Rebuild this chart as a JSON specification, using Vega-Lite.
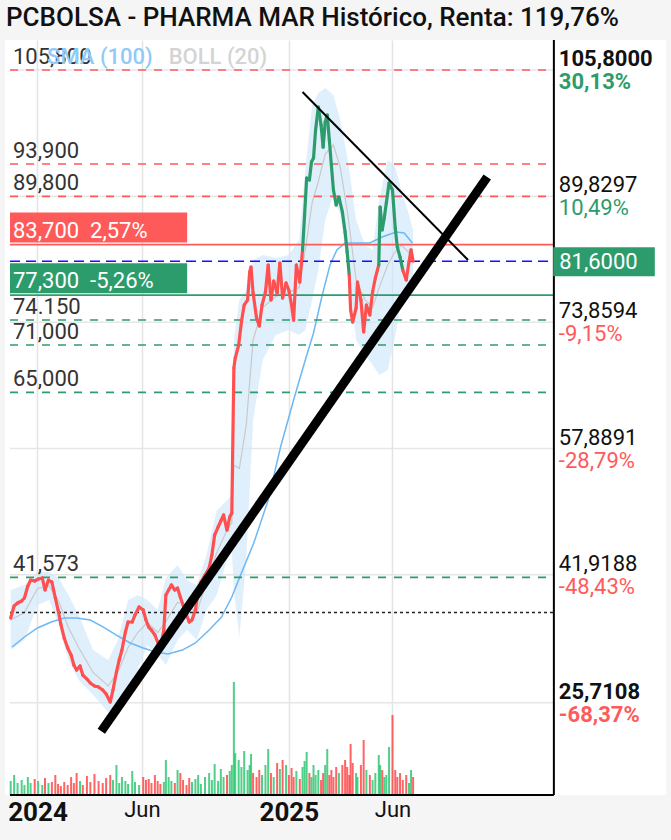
{
"$schema": "https://vega.github.io/schema/vega-lite/v6.json",
"width": 661, "height": 755,
"autosize": {"type": "none"},
"padding": {"left": 5, "top": 40, "right": 5, "bottom": 45},
"background": "#f5f5f5",
"title": {"text": "PCBOLSA - PHARMA MAR Histórico, Renta: 119,76%", "anchor": "start", "frame": "group", "fontSize": 26, "fontWeight": 500, "color": "#111111", "offset": 8, "dx": 1},
"config": {"font": "Roboto", "view": {"fill": "white", "stroke": null}},
"datasets": {
"precios": [
{"fecha":"2023-11-23","cierre":36.43,"vol":280},{"fecha":"2023-11-28","cierre":37.95,"vol":400},{"fecha":"2023-12-03","cierre":38.33,"vol":240},{"fecha":"2023-12-09","cierre":38.59,"vol":300},{"fecha":"2023-12-13","cierre":38.97,"vol":200},{"fecha":"2023-12-18","cierre":40.48,"vol":360},{"fecha":"2023-12-22","cierre":41.24,"vol":240},{"fecha":"2023-12-28","cierre":41.12,"vol":320},{"fecha":"2024-01-02","cierre":41.37,"vol":280},{"fecha":"2024-01-08","cierre":41.50,"vol":200},{"fecha":"2024-01-12","cierre":39.98,"vol":340},{"fecha":"2024-01-17","cierre":41.24,"vol":240},{"fecha":"2024-01-22","cierre":40.99,"vol":260},{"fecha":"2024-01-27","cierre":38.97,"vol":400},{"fecha":"2024-01-31","cierre":37.45,"vol":220},{"fecha":"2024-02-04","cierre":35.67,"vol":180},{"fecha":"2024-02-09","cierre":33.90,"vol":260},{"fecha":"2024-02-14","cierre":32.64,"vol":200},{"fecha":"2024-02-19","cierre":31.75,"vol":360},{"fecha":"2024-02-23","cierre":30.48,"vol":240},{"fecha":"2024-02-27","cierre":29.85,"vol":440},{"fecha":"2024-03-03","cierre":30.36,"vol":280},{"fecha":"2024-03-07","cierre":29.22,"vol":200},{"fecha":"2024-03-13","cierre":28.71,"vol":380},{"fecha":"2024-03-18","cierre":28.21,"vol":260},{"fecha":"2024-03-24","cierre":27.83,"vol":420},{"fecha":"2024-03-30","cierre":27.70,"vol":280},{"fecha":"2024-04-05","cierre":27.32,"vol":240},{"fecha":"2024-04-10","cierre":26.81,"vol":340},{"fecha":"2024-04-16","cierre":25.80,"vol":400},{"fecha":"2024-04-20","cierre":27.32,"vol":300},{"fecha":"2024-04-25","cierre":29.60,"vol":600},{"fecha":"2024-04-29","cierre":31.12,"vol":240},{"fecha":"2024-05-03","cierre":32.38,"vol":360},{"fecha":"2024-05-08","cierre":34.66,"vol":280},{"fecha":"2024-05-12","cierre":35.93,"vol":220},{"fecha":"2024-05-18","cierre":35.93,"vol":480},{"fecha":"2024-05-22","cierre":36.81,"vol":260},{"fecha":"2024-05-28","cierre":37.83,"vol":200},{"fecha":"2024-06-03","cierre":37.45,"vol":360},{"fecha":"2024-06-07","cierre":36.18,"vol":300},{"fecha":"2024-06-11","cierre":35.29,"vol":320},{"fecha":"2024-06-15","cierre":34.91,"vol":240},{"fecha":"2024-06-20","cierre":34.28,"vol":400},{"fecha":"2024-06-24","cierre":33.40,"vol":280},{"fecha":"2024-06-28","cierre":32.64,"vol":220},{"fecha":"2024-07-03","cierre":34.91,"vol":260},{"fecha":"2024-07-06","cierre":39.35,"vol":700},{"fecha":"2024-07-10","cierre":39.98,"vol":360},{"fecha":"2024-07-14","cierre":40.61,"vol":280},{"fecha":"2024-07-19","cierre":39.98,"vol":240},{"fecha":"2024-07-23","cierre":40.23,"vol":500},{"fecha":"2024-07-27","cierre":39.09,"vol":440},{"fecha":"2024-07-31","cierre":38.08,"vol":300},{"fecha":"2024-08-05","cierre":36.81,"vol":200},{"fecha":"2024-08-09","cierre":35.93,"vol":340},{"fecha":"2024-08-13","cierre":36.18,"vol":260},{"fecha":"2024-08-18","cierre":37.45,"vol":320},{"fecha":"2024-08-22","cierre":39.73,"vol":400},{"fecha":"2024-08-26","cierre":40.99,"vol":220},{"fecha":"2024-09-01","cierre":41.88,"vol":360},{"fecha":"2024-09-07","cierre":42.76,"vol":440},{"fecha":"2024-09-11","cierre":44.41,"vol":300},{"fecha":"2024-09-15","cierre":46.94,"vol":620},{"fecha":"2024-09-20","cierre":47.95,"vol":280},{"fecha":"2024-09-24","cierre":48.71,"vol":520},{"fecha":"2024-09-28","cierre":49.47,"vol":360},{"fecha":"2024-10-03","cierre":47.57,"vol":400},{"fecha":"2024-10-07","cierre":49.22,"vol":480},{"fecha":"2024-10-10","cierre":49.73,"vol":600},{"fecha":"2024-10-13","cierre":68.08,"vol":2260},{"fecha":"2024-10-15","cierre":69.34,"vol":840},{"fecha":"2024-10-20","cierre":70.99,"vol":700},{"fecha":"2024-10-24","cierre":73.90,"vol":560},{"fecha":"2024-10-28","cierre":76.05,"vol":880},{"fecha":"2024-11-02","cierre":76.69,"vol":500},{"fecha":"2024-11-05","cierre":80.23,"vol":600},{"fecha":"2024-11-07","cierre":80.86,"vol":820},{"fecha":"2024-11-10","cierre":77.57,"vol":440},{"fecha":"2024-11-15","cierre":74.41,"vol":360},{"fecha":"2024-11-19","cierre":73.40,"vol":500},{"fecha":"2024-11-23","cierre":76.05,"vol":400},{"fecha":"2024-11-28","cierre":77.70,"vol":600},{"fecha":"2024-12-02","cierre":81.12,"vol":920},{"fecha":"2024-12-06","cierre":76.69,"vol":440},{"fecha":"2024-12-10","cierre":79.09,"vol":360},{"fecha":"2024-12-15","cierre":77.57,"vol":640},{"fecha":"2024-12-19","cierre":81.37,"vol":520},{"fecha":"2024-12-23","cierre":76.94,"vol":700},{"fecha":"2024-12-28","cierre":78.84,"vol":600},{"fecha":"2025-01-01","cierre":77.95,"vol":400},{"fecha":"2025-01-05","cierre":76.05,"vol":540},{"fecha":"2025-01-08","cierre":74.15,"vol":360},{"fecha":"2025-01-12","cierre":81.12,"vol":480},{"fecha":"2025-01-17","cierre":78.96,"vol":320},{"fecha":"2025-01-21","cierre":83.02,"vol":560},{"fecha":"2025-01-24","cierre":87.45,"vol":680},{"fecha":"2025-01-27","cierre":92.13,"vol":860},{"fecha":"2025-01-31","cierre":91.88,"vol":440},{"fecha":"2025-02-03","cierre":94.15,"vol":360},{"fecha":"2025-02-06","cierre":94.66,"vol":600},{"fecha":"2025-02-09","cierre":98.21,"vol":400},{"fecha":"2025-02-13","cierre":101.12,"vol":500},{"fecha":"2025-02-17","cierre":98.84,"vol":300},{"fecha":"2025-02-20","cierre":96.05,"vol":440},{"fecha":"2025-02-23","cierre":99.22,"vol":600},{"fecha":"2025-02-26","cierre":100.10,"vol":920},{"fecha":"2025-03-01","cierre":96.94,"vol":400},{"fecha":"2025-03-04","cierre":93.77,"vol":500},{"fecha":"2025-03-07","cierre":90.61,"vol":360},{"fecha":"2025-03-11","cierre":88.71,"vol":560},{"fecha":"2025-03-15","cierre":89.72,"vol":440},{"fecha":"2025-03-20","cierre":87.83,"vol":600},{"fecha":"2025-03-24","cierre":85.29,"vol":700},{"fecha":"2025-03-27","cierre":82.76,"vol":560},{"fecha":"2025-03-30","cierre":79.85,"vol":400},{"fecha":"2025-04-01","cierre":75.42,"vol":1020},{"fecha":"2025-04-04","cierre":73.90,"vol":640},{"fecha":"2025-04-09","cierre":75.67,"vol":440},{"fecha":"2025-04-11","cierre":78.96,"vol":360},{"fecha":"2025-04-16","cierre":76.69,"vol":600},{"fecha":"2025-04-20","cierre":72.64,"vol":1100},{"fecha":"2025-04-24","cierre":76.05,"vol":500},{"fecha":"2025-04-29","cierre":74.79,"vol":400},{"fecha":"2025-05-03","cierre":77.70,"vol":300},{"fecha":"2025-05-07","cierre":79.47,"vol":440},{"fecha":"2025-05-12","cierre":81.12,"vol":800},{"fecha":"2025-05-14","cierre":88.46,"vol":600},{"fecha":"2025-05-17","cierre":85.55,"vol":500},{"fecha":"2025-05-20","cierre":87.07,"vol":360},{"fecha":"2025-05-23","cierre":88.96,"vol":400},{"fecha":"2025-05-27","cierre":91.50,"vol":960},{"fecha":"2025-06-01","cierre":90.61,"vol":1600},{"fecha":"2025-06-05","cierre":85.80,"vol":500},{"fecha":"2025-06-08","cierre":83.39,"vol":360},{"fecha":"2025-06-12","cierre":82.13,"vol":440},{"fecha":"2025-06-16","cierre":80.48,"vol":300},{"fecha":"2025-06-21","cierre":79.22,"vol":400},{"fecha":"2025-06-25","cierre":81.50,"vol":240},{"fecha":"2025-06-28","cierre":83.02,"vol":500},{"fecha":"2025-07-01","cierre":81.60,"vol":360}
],
"bandas": [
{"fecha":"2023-11-23","sup":39.98,"inf":32.38,"media":36.18},{"fecha":"2023-12-13","sup":40.61,"inf":33.65,"media":37.13},{"fecha":"2024-01-01","sup":42.26,"inf":38.08,"media":40.17},{"fecha":"2024-01-18","sup":42.26,"inf":38.71,"media":40.49},{"fecha":"2024-02-01","sup":41.50,"inf":35.55,"media":38.53},{"fecha":"2024-02-15","sup":39.35,"inf":31.12,"media":35.24},{"fecha":"2024-03-01","sup":36.81,"inf":28.59,"media":32.70},{"fecha":"2024-03-22","sup":32.38,"inf":26.69,"media":29.54},{"fecha":"2024-04-13","sup":31.12,"inf":24.54,"media":27.83},{"fecha":"2024-04-27","sup":33.65,"inf":25.42,"media":29.54},{"fecha":"2024-05-12","sup":38.71,"inf":26.69,"media":32.70},{"fecha":"2024-05-26","sup":39.35,"inf":29.85,"media":34.60},{"fecha":"2024-06-09","sup":38.71,"inf":33.02,"media":35.87},{"fecha":"2024-06-24","sup":37.45,"inf":31.75,"media":34.60},{"fecha":"2024-07-06","sup":41.50,"inf":30.48,"media":35.99},{"fecha":"2024-07-23","sup":43.14,"inf":33.65,"media":38.40},{"fecha":"2024-08-06","sup":41.24,"inf":34.91,"media":38.08},{"fecha":"2024-08-20","sup":40.61,"inf":33.65,"media":37.13},{"fecha":"2024-09-03","sup":44.41,"inf":37.45,"media":40.93},{"fecha":"2024-09-18","sup":50.00,"inf":39.35,"media":44.68},{"fecha":"2024-10-03","sup":51.37,"inf":43.77,"media":47.57},{"fecha":"2024-10-10","sup":52.00,"inf":45.00,"media":48.50},{"fecha":"2024-10-13","sup":71.62,"inf":39.98,"media":55.80},{"fecha":"2024-10-21","sup":76.69,"inf":34.03,"media":55.36},{"fecha":"2024-10-31","sup":77.95,"inf":43.77,"media":60.86},{"fecha":"2024-11-10","sup":81.75,"inf":61.50,"media":71.63},{"fecha":"2024-11-24","sup":82.38,"inf":69.09,"media":75.74},{"fecha":"2024-12-13","sup":82.00,"inf":72.26,"media":77.13},{"fecha":"2025-01-01","sup":82.38,"inf":72.89,"media":77.64},{"fecha":"2025-01-16","sup":84.28,"inf":72.26,"media":78.27},{"fecha":"2025-01-25","sup":93.14,"inf":72.89,"media":83.02},{"fecha":"2025-02-04","sup":101.37,"inf":76.69,"media":89.03},{"fecha":"2025-02-13","sup":102.89,"inf":80.49,"media":91.69},{"fecha":"2025-02-23","sup":103.52,"inf":86.81,"media":95.17},{"fecha":"2025-03-07","sup":102.64,"inf":89.98,"media":96.31},{"fecha":"2025-03-17","sup":99.47,"inf":87.45,"media":93.46},{"fecha":"2025-03-28","sup":94.41,"inf":80.49,"media":87.45},{"fecha":"2025-04-09","sup":86.81,"inf":71.62,"media":79.22},{"fecha":"2025-04-22","sup":83.65,"inf":69.72,"media":76.69},{"fecha":"2025-05-03","sup":83.02,"inf":68.46,"media":75.74},{"fecha":"2025-05-13","sup":89.50,"inf":67.19,"media":78.35},{"fecha":"2025-05-25","sup":94.41,"inf":67.83,"media":81.12},{"fecha":"2025-06-04","sup":93.77,"inf":71.62,"media":82.70},{"fecha":"2025-06-14","sup":90.61,"inf":76.69,"media":83.65},{"fecha":"2025-06-25","sup":87.45,"inf":77.95,"media":82.70},{"fecha":"2025-07-01","sup":85.55,"inf":77.95,"media":81.75}
],
"sma": [
{"fecha":"2023-11-25","sma":32.76},{"fecha":"2023-12-13","sma":34.03},{"fecha":"2024-01-01","sma":35.17},{"fecha":"2024-01-21","sma":35.93},{"fecha":"2024-02-09","sma":36.43},{"fecha":"2024-02-27","sma":36.43},{"fecha":"2024-03-18","sma":36.18},{"fecha":"2024-04-06","sma":35.29},{"fecha":"2024-04-25","sma":34.28},{"fecha":"2024-05-15","sma":33.27},{"fecha":"2024-06-03","sma":32.64},{"fecha":"2024-06-21","sma":32.13},{"fecha":"2024-07-09","sma":31.88},{"fecha":"2024-07-30","sma":32.38},{"fecha":"2024-08-18","sma":33.27},{"fecha":"2024-09-07","sma":34.91},{"fecha":"2024-09-25","sma":36.56},{"fecha":"2024-10-10","sma":39.09},{"fecha":"2024-10-24","sma":42.13},{"fecha":"2024-11-11","sma":45.93},{"fecha":"2024-12-02","sma":51.37},{"fecha":"2024-12-20","sma":58.08},{"fecha":"2025-01-08","sma":64.03},{"fecha":"2025-01-25","sma":69.09},{"fecha":"2025-02-06","sma":72.51},{"fecha":"2025-02-18","sma":77.07},{"fecha":"2025-03-02","sma":81.12},{"fecha":"2025-03-12","sma":83.02},{"fecha":"2025-03-24","sma":83.90},{"fecha":"2025-04-29","sma":83.90},{"fecha":"2025-05-17","sma":84.66},{"fecha":"2025-06-06","sma":85.29},{"fecha":"2025-06-18","sma":85.17},{"fecha":"2025-06-30","sma":83.90}
],
"niveles": [
{"valor":105.8,"etiqueta":"105,800","tipo":"resistencia"},
{"valor":93.9,"etiqueta":"93,900","tipo":"resistencia"},
{"valor":89.8,"etiqueta":"89,800","tipo":"resistencia"},
{"valor":83.7,"etiqueta":"83,700\u00a0\u00a02,57%","tipo":"resistencia_activa"},
{"valor":81.6,"etiqueta":"81,6000","tipo":"precio"},
{"valor":77.3,"etiqueta":"77,300\u00a0\u00a0-5,26%","tipo":"soporte_activo"},
{"valor":74.15,"etiqueta":"74.150","tipo":"soporte"},
{"valor":71.0,"etiqueta":"71,000","tipo":"soporte"},
{"valor":65.0,"etiqueta":"65,000","tipo":"soporte"},
{"valor":41.573,"etiqueta":"41,573","tipo":"soporte"},
{"valor":37.13,"etiqueta":"","tipo":"inicio"}
],
"rejilla": [
{"valor":105.8,"etiqueta":"105,8000","pct":"30,13%"},
{"valor":89.8297,"etiqueta":"89,8297","pct":"10,49%"},
{"valor":73.8594,"etiqueta":"73,8594","pct":"-9,15%"},
{"valor":57.8891,"etiqueta":"57,8891","pct":"-28,79%"},
{"valor":41.9188,"etiqueta":"41,9188","pct":"-48,43%"},
{"valor":25.7108,"etiqueta":"25,7108","pct":"-68,37%"}
],
"tendencias": [
{"linea":"alcista","fecha":"2024-04-03","precio":22.1},
{"linea":"alcista","fecha":"2025-10-17","precio":92.26},
{"linea":"bajista","fecha":"2025-01-21","precio":103.02},
{"linea":"bajista","fecha":"2025-09-19","precio":81.75}
],
"leyenda": [
{"serie":"SMA (100)"},
{"serie":"BOLL (20)"}
]
},
"layer": [
{
"data": {"name": "rejilla"},
"mark": {"type": "rule", "color": "#e6e6e6", "strokeWidth": 1.5},
"encoding": {
"x": {"datum": {"year":2023,"month":11,"date":22,"utc":true}, "type": "temporal", "scale": {"type":"utc","domain":[{"year":2023,"month":11,"date":22,"utc":true},{"year":2026,"month":6,"date":27,"utc":true}],"nice":false}, "title": null},
"x2": {"datum": {"year":2026,"month":1,"date":22,"utc":true}},
"y": {"field": "valor", "type": "quantitative", "scale": {"domain":[14.03,109.6],"nice":false,"zero":false}, "axis": null}
}
},
{
"data": {"name": "bandas"},
"mark": {"type": "area", "color": "#cfe7fb", "opacity": 0.65},
"encoding": {
"x": {"field": "fecha", "type": "temporal", "scale": {"type":"utc","domain":[{"year":2023,"month":11,"date":22,"utc":true},{"year":2026,"month":6,"date":27,"utc":true}],"nice":false}, "title": null,
"axis": {"values": [{"year":2024,"month":1,"date":1,"utc":true},{"year":2024,"month":6,"date":1,"utc":true},{"year":2025,"month":1,"date":1,"utc":true},{"year":2025,"month":6,"date":1,"utc":true}],
"labelExpr": "utcmonth(datum.value) == 0 ? utcFormat(datum.value, '%Y') : 'Jun'",
"labelFontSize": {"condition": {"test": "utcmonth(datum.value) == 0", "value": 26}, "value": 22},
"labelFontWeight": {"condition": {"test": "utcmonth(datum.value) == 0", "value": "bold"}, "value": "normal"},
"labelColor": "#111111", "labelPadding": 4, "labelOverlap": false, "labelFlush": false, "labelBound": false,
"ticks": false, "domain": false, "grid": true, "gridColor": "#e4e4e4", "gridWidth": 1.5, "title": null}},
"y": {"field": "sup", "type": "quantitative", "scale": {"domain":[14.03,109.6],"nice":false,"zero":false}, "axis": null},
"y2": {"field": "inf"}
}
},
{
"data": {"name": "bandas"},
"mark": {"type": "line", "color": "#c9c9c9", "strokeWidth": 1.2},
"encoding": {
"x": {"field": "fecha", "type": "temporal", "scale": {"type":"utc","domain":[{"year":2023,"month":11,"date":22,"utc":true},{"year":2026,"month":6,"date":27,"utc":true}],"nice":false}, "title": null},
"y": {"field": "media", "type": "quantitative", "scale": {"domain":[14.03,109.6],"nice":false,"zero":false}, "axis": null}
}
},
{
"data": {"name": "sma"},
"mark": {"type": "line", "color": "#6cb8f5", "strokeWidth": 1.5},
"encoding": {
"x": {"field": "fecha", "type": "temporal", "scale": {"type":"utc","domain":[{"year":2023,"month":11,"date":22,"utc":true},{"year":2026,"month":6,"date":27,"utc":true}],"nice":false}, "title": null},
"y": {"field": "sma", "type": "quantitative", "scale": {"domain":[14.03,109.6],"nice":false,"zero":false}, "axis": null}
}
},
{
"data": {"name": "niveles"},
"mark": {"type": "rule", "strokeWidth": 1.6},
"encoding": {
"x": {"datum": {"year":2023,"month":11,"date":22,"utc":true}, "type": "temporal", "scale": {"type":"utc","domain":[{"year":2023,"month":11,"date":22,"utc":true},{"year":2026,"month":6,"date":27,"utc":true}],"nice":false}, "title": null},
"x2": {"datum": {"year":2026,"month":1,"date":22,"utc":true}},
"y": {"field": "valor", "type": "quantitative", "scale": {"domain":[14.03,109.6],"nice":false,"zero":false}, "axis": null},
"color": {"field": "tipo", "type": "nominal", "legend": null, "scale": {"domain": ["resistencia","resistencia_activa","precio","soporte_activo","soporte","inicio"], "range": ["#ff5a5a","#ff5a5a","#1010ff","#2d9c6c","#2d9c6c","#222222"]}},
"strokeDash": {"field": "tipo", "type": "nominal", "legend": null, "scale": {"domain": ["resistencia","resistencia_activa","precio","soporte_activo","soporte","inicio"], "range": [[8,8],[1,0],[10,6],[1,0],[8,8],[3,3]]}}
}
},
{
"data": {"name": "precios"},
"transform": [{"window": [{"op": "lag", "field": "cierre", "as": "cant"}], "sort": [{"field": "fecha"}]}],
"mark": {"type": "bar", "width": 2, "opacity": 0.8},
"encoding": {
"x": {"field": "fecha", "type": "temporal", "scale": {"type":"utc","domain":[{"year":2023,"month":11,"date":22,"utc":true},{"year":2026,"month":6,"date":27,"utc":true}],"nice":false}, "title": null},
"y": {"field": "vol", "type": "quantitative", "scale": {"domain":[0,15100],"nice":false,"zero":true}, "axis": null},
"color": {"condition": {"test": "datum.cant == null || datum.cierre >= datum.cant", "value": "#22c46a"}, "value": "#ff3d3d"}
}
},
{
"data": {"name": "precios"},
"transform": [
{"window": [{"op": "lead", "field": "fecha", "as": "fsig"}, {"op": "lead", "field": "cierre", "as": "csig"}], "sort": [{"field": "fecha"}]},
{"filter": "datum.csig != null"}
],
"mark": {"type": "rule", "strokeWidth": 3.2, "strokeCap": "round"},
"encoding": {
"x": {"field": "fecha", "type": "temporal", "scale": {"type":"utc","domain":[{"year":2023,"month":11,"date":22,"utc":true},{"year":2026,"month":6,"date":27,"utc":true}],"nice":false}, "title": null},
"x2": {"field": "fsig"},
"y": {"field": "cierre", "type": "quantitative", "scale": {"domain":[14.03,109.6],"nice":false,"zero":false}, "axis": null},
"y2": {"field": "csig"},
"color": {"condition": {"test": "datum.cierre >= 81 && +toDate(datum.fecha) >= utc(2025,0,15) && +toDate(datum.fecha) <= utc(2025,5,14)", "value": "#2d9c6c"}, "value": "#ff5050"}
}
},
{
"data": {"name": "tendencias"},
"mark": {"type": "line", "color": "#000000", "strokeCap": "butt"},
"encoding": {
"x": {"field": "fecha", "type": "temporal", "scale": {"type":"utc","domain":[{"year":2023,"month":11,"date":22,"utc":true},{"year":2026,"month":6,"date":27,"utc":true}],"nice":false}, "title": null},
"y": {"field": "precio", "type": "quantitative", "scale": {"domain":[14.03,109.6],"nice":false,"zero":false}, "axis": null},
"strokeWidth": {"field": "linea", "type": "nominal", "legend": null, "scale": {"domain": ["alcista","bajista"], "range": [9,2]}}
}
},
{
"data": {"name": "niveles"},
"transform": [{"filter": "datum.tipo == 'precio'"}],
"mark": {"type": "rule", "color": "#000000", "strokeWidth": 2},
"encoding": {
"x": {"datum": {"year":2026,"month":1,"date":22,"utc":true}, "type": "temporal", "scale": {"type":"utc","domain":[{"year":2023,"month":11,"date":22,"utc":true},{"year":2026,"month":6,"date":27,"utc":true}],"nice":false}, "title": null}
}
},
{
"data": {"name": "niveles"},
"transform": [{"filter": "datum.tipo == 'precio'"}],
"mark": {"type": "rule", "color": "#000000", "strokeWidth": 2},
"encoding": {
"x": {"datum": {"year":2023,"month":11,"date":22,"utc":true}, "type": "temporal", "scale": {"type":"utc","domain":[{"year":2023,"month":11,"date":22,"utc":true},{"year":2026,"month":6,"date":27,"utc":true}],"nice":false}, "title": null},
"x2": {"datum": {"year":2026,"month":1,"date":22,"utc":true}},
"y": {"datum": 14.03, "type": "quantitative", "scale": {"domain":[14.03,109.6],"nice":false,"zero":false}, "axis": null}
}
},
{
"data": {"name": "niveles"},
"transform": [{"filter": "datum.tipo == 'resistencia_activa' || datum.tipo == 'soporte_activo'"}],
"mark": {"type": "rect", "yOffset": -2, "y2Offset": -32},
"encoding": {
"x": {"datum": {"year":2023,"month":11,"date":22,"utc":true}, "type": "temporal", "scale": {"type":"utc","domain":[{"year":2023,"month":11,"date":22,"utc":true},{"year":2026,"month":6,"date":27,"utc":true}],"nice":false}, "title": null},
"x2": {"datum": {"year":2024,"month":8,"date":6,"utc":true}},
"y": {"field": "valor", "type": "quantitative", "scale": {"domain":[14.03,109.6],"nice":false,"zero":false}, "axis": null},
"y2": {"field": "valor"},
"color": {"condition": {"test": "datum.tipo == 'resistencia_activa'", "value": "#ff5a5a"}, "value": "#2d9c6c"}
}
},
{
"data": {"name": "niveles"},
"transform": [{"filter": "datum.tipo == 'resistencia' || datum.tipo == 'soporte'"}],
"mark": {"type": "text", "align": "left", "baseline": "alphabetic", "dx": 3, "dy": -6, "fontSize": 22, "color": "#333333"},
"encoding": {
"x": {"datum": {"year":2023,"month":11,"date":22,"utc":true}, "type": "temporal", "scale": {"type":"utc","domain":[{"year":2023,"month":11,"date":22,"utc":true},{"year":2026,"month":6,"date":27,"utc":true}],"nice":false}, "title": null},
"y": {"field": "valor", "type": "quantitative", "scale": {"domain":[14.03,109.6],"nice":false,"zero":false}, "axis": null},
"text": {"field": "etiqueta"}
}
},
{
"data": {"name": "niveles"},
"transform": [{"filter": "datum.tipo == 'resistencia_activa' || datum.tipo == 'soporte_activo'"}],
"mark": {"type": "text", "align": "left", "baseline": "alphabetic", "dx": 3, "dy": -7, "fontSize": 22, "color": "#ffffff"},
"encoding": {
"x": {"datum": {"year":2023,"month":11,"date":22,"utc":true}, "type": "temporal", "scale": {"type":"utc","domain":[{"year":2023,"month":11,"date":22,"utc":true},{"year":2026,"month":6,"date":27,"utc":true}],"nice":false}, "title": null},
"y": {"field": "valor", "type": "quantitative", "scale": {"domain":[14.03,109.6],"nice":false,"zero":false}, "axis": null},
"text": {"field": "etiqueta"}
}
},
{
"data": {"name": "niveles"},
"transform": [{"filter": "datum.tipo == 'precio'"}],
"mark": {"type": "rect", "color": "#2d9c6c", "yOffset": -14, "y2Offset": 15},
"encoding": {
"x": {"datum": {"year":2026,"month":1,"date":21,"utc":true}, "type": "temporal", "scale": {"type":"utc","domain":[{"year":2023,"month":11,"date":22,"utc":true},{"year":2026,"month":6,"date":27,"utc":true}],"nice":false}, "title": null},
"x2": {"datum": {"year":2026,"month":6,"date":18,"utc":true}},
"y": {"field": "valor", "type": "quantitative", "scale": {"domain":[14.03,109.6],"nice":false,"zero":false}, "axis": null},
"y2": {"field": "valor"}
}
},
{
"data": {"name": "niveles"},
"transform": [{"filter": "datum.tipo == 'precio'"}],
"mark": {"type": "text", "align": "left", "baseline": "middle", "dx": 6, "dy": 1, "fontSize": 22, "color": "#ffffff"},
"encoding": {
"x": {"datum": {"year":2026,"month":1,"date":21,"utc":true}, "type": "temporal", "scale": {"type":"utc","domain":[{"year":2023,"month":11,"date":22,"utc":true},{"year":2026,"month":6,"date":27,"utc":true}],"nice":false}, "title": null},
"y": {"field": "valor", "type": "quantitative", "scale": {"domain":[14.03,109.6],"nice":false,"zero":false}, "axis": null},
"text": {"field": "etiqueta"}
}
},
{
"data": {"name": "rejilla"},
"transform": [{"filter": "datum.valor <= 100 && datum.valor >= 30"}],
"mark": {"type": "text", "align": "left", "baseline": "alphabetic", "dx": 5, "dy": -4, "fontSize": 22, "color": "#111111"},
"encoding": {
"x": {"datum": {"year":2026,"month":1,"date":22,"utc":true}, "type": "temporal", "scale": {"type":"utc","domain":[{"year":2023,"month":11,"date":22,"utc":true},{"year":2026,"month":6,"date":27,"utc":true}],"nice":false}, "title": null},
"y": {"field": "valor", "type": "quantitative", "scale": {"domain":[14.03,109.6],"nice":false,"zero":false}, "axis": null},
"text": {"field": "etiqueta"}
}
},
{
"data": {"name": "rejilla"},
"transform": [{"filter": "datum.valor > 100 || datum.valor < 30"}],
"mark": {"type": "text", "align": "left", "baseline": "alphabetic", "dx": 5, "dy": -4, "fontSize": 22, "fontWeight": "bold", "color": "#111111"},
"encoding": {
"x": {"datum": {"year":2026,"month":1,"date":22,"utc":true}, "type": "temporal", "scale": {"type":"utc","domain":[{"year":2023,"month":11,"date":22,"utc":true},{"year":2026,"month":6,"date":27,"utc":true}],"nice":false}, "title": null},
"y": {"field": "valor", "type": "quantitative", "scale": {"domain":[14.03,109.6],"nice":false,"zero":false}, "axis": null},
"text": {"field": "etiqueta"}
}
},
{
"data": {"name": "rejilla"},
"transform": [{"filter": "datum.valor <= 100 && datum.valor >= 30"}],
"mark": {"type": "text", "align": "left", "baseline": "top", "dx": 5, "dy": 2, "fontSize": 22},
"encoding": {
"x": {"datum": {"year":2026,"month":1,"date":22,"utc":true}, "type": "temporal", "scale": {"type":"utc","domain":[{"year":2023,"month":11,"date":22,"utc":true},{"year":2026,"month":6,"date":27,"utc":true}],"nice":false}, "title": null},
"y": {"field": "valor", "type": "quantitative", "scale": {"domain":[14.03,109.6],"nice":false,"zero":false}, "axis": null},
"text": {"field": "pct"},
"color": {"condition": {"test": "datum.valor > 81.3", "value": "#2d9c6c"}, "value": "#ff5a5a"}
}
},
{
"data": {"name": "rejilla"},
"transform": [{"filter": "datum.valor > 100 || datum.valor < 30"}],
"mark": {"type": "text", "align": "left", "baseline": "top", "dx": 5, "dy": 2, "fontSize": 22, "fontWeight": "bold"},
"encoding": {
"x": {"datum": {"year":2026,"month":1,"date":22,"utc":true}, "type": "temporal", "scale": {"type":"utc","domain":[{"year":2023,"month":11,"date":22,"utc":true},{"year":2026,"month":6,"date":27,"utc":true}],"nice":false}, "title": null},
"y": {"field": "valor", "type": "quantitative", "scale": {"domain":[14.03,109.6],"nice":false,"zero":false}, "axis": null},
"text": {"field": "pct"},
"color": {"condition": {"test": "datum.valor > 81.3", "value": "#2d9c6c"}, "value": "#ff5a5a"}
}
},
{
"data": {"name": "leyenda"},
"transform": [{"filter": "datum.serie == 'SMA (100)'"}],
"mark": {"type": "text", "align": "left", "baseline": "middle", "fontSize": 22, "fontWeight": 500, "color": "#90cbf7"},
"encoding": {
"x": {"datum": {"year":2024,"month":1,"date":15,"utc":true}, "type": "temporal", "scale": {"type":"utc","domain":[{"year":2023,"month":11,"date":22,"utc":true},{"year":2026,"month":6,"date":27,"utc":true}],"nice":false}, "title": null},
"y": {"datum": 107.45, "type": "quantitative", "scale": {"domain":[14.03,109.6],"nice":false,"zero":false}, "axis": null},
"text": {"field": "serie"}
}
},
{
"data": {"name": "leyenda"},
"transform": [{"filter": "datum.serie == 'BOLL (20)'"}],
"mark": {"type": "text", "align": "left", "baseline": "middle", "fontSize": 22, "fontWeight": 500, "color": "#d4d4d4"},
"encoding": {
"x": {"datum": {"year":2024,"month":7,"date":10,"utc":true}, "type": "temporal", "scale": {"type":"utc","domain":[{"year":2023,"month":11,"date":22,"utc":true},{"year":2026,"month":6,"date":27,"utc":true}],"nice":false}, "title": null},
"y": {"datum": 107.45, "type": "quantitative", "scale": {"domain":[14.03,109.6],"nice":false,"zero":false}, "axis": null},
"text": {"field": "serie"}
}
}
],
"resolve": {"scale": {"y": "independent"}}
}
